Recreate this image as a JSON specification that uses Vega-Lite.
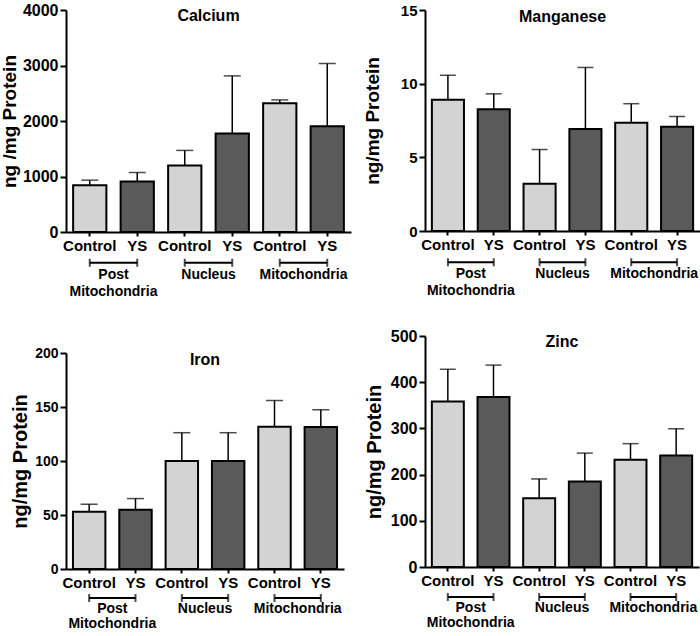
{
  "$schema": "https://vega.github.io/schema/vega-lite/v6.json",
  "padding": {"left": 0, "top": 2, "right": 0, "bottom": 0},
  "config": {
    "view": {"stroke": null},
    "font": "Liberation Sans",
    "axis": {"labelFont": "Liberation Sans", "titleFont": "Liberation Sans", "labelFontWeight": "bold", "titleFontWeight": "bold", "labelColor": "#000", "titleColor": "#000", "domainColor": "#000", "tickColor": "#000", "domainWidth": 2, "tickWidth": 2, "grid": false},
    "title": {"font": "Liberation Sans", "fontWeight": "bold", "fontSize": 16, "color": "#000", "frame": "group", "anchor": "middle", "offset": -22, "baseline": "alphabetic"},
    "text": {"font": "Liberation Sans"}
  },
  "datasets": {
    "bars": [
      {"element": "Calcium", "key": "PM|Control", "treatment": "Control", "mean": 843, "upper": 934},
      {"element": "Calcium", "key": "PM|YS", "treatment": "YS", "mean": 910, "upper": 1072},
      {"element": "Calcium", "key": "Nuc|Control", "treatment": "Control", "mean": 1199, "upper": 1470},
      {"element": "Calcium", "key": "Nuc|YS", "treatment": "YS", "mean": 1777, "upper": 2813},
      {"element": "Calcium", "key": "Mito|Control", "treatment": "Control", "mean": 2319, "upper": 2380},
      {"element": "Calcium", "key": "Mito|YS", "treatment": "YS", "mean": 1904, "upper": 3036},
      {"element": "Manganese", "key": "PM|Control", "treatment": "Control", "mean": 8.91, "upper": 10.57},
      {"element": "Manganese", "key": "PM|YS", "treatment": "YS", "mean": 8.26, "upper": 9.31},
      {"element": "Manganese", "key": "Nuc|Control", "treatment": "Control", "mean": 3.2, "upper": 5.53},
      {"element": "Manganese", "key": "Nuc|YS", "treatment": "YS", "mean": 6.92, "upper": 11.1},
      {"element": "Manganese", "key": "Mito|Control", "treatment": "Control", "mean": 7.34, "upper": 8.64},
      {"element": "Manganese", "key": "Mito|YS", "treatment": "YS", "mean": 7.07, "upper": 7.77},
      {"element": "Iron", "key": "PM|Control", "treatment": "Control", "mean": 52.9, "upper": 60},
      {"element": "Iron", "key": "PM|YS", "treatment": "YS", "mean": 54.8, "upper": 65.2},
      {"element": "Iron", "key": "Nuc|Control", "treatment": "Control", "mean": 100, "upper": 126.2},
      {"element": "Iron", "key": "Nuc|YS", "treatment": "YS", "mean": 100, "upper": 126.2},
      {"element": "Iron", "key": "Mito|Control", "treatment": "Control", "mean": 131.7, "upper": 156},
      {"element": "Iron", "key": "Mito|YS", "treatment": "YS", "mean": 131.4, "upper": 147.4},
      {"element": "Zinc", "key": "PM|Control", "treatment": "Control", "mean": 358, "upper": 428},
      {"element": "Zinc", "key": "PM|YS", "treatment": "YS", "mean": 368, "upper": 437},
      {"element": "Zinc", "key": "Nuc|Control", "treatment": "Control", "mean": 148.7, "upper": 190.6},
      {"element": "Zinc", "key": "Nuc|YS", "treatment": "YS", "mean": 184.8, "upper": 246.5},
      {"element": "Zinc", "key": "Mito|Control", "treatment": "Control", "mean": 232, "upper": 267},
      {"element": "Zinc", "key": "Mito|YS", "treatment": "YS", "mean": 241.3, "upper": 299}
    ],
    "brackets": [
      {"group": "PM", "label": "Post\nMitochondria", "ctrl": "PM|Control", "ys": "PM|YS"},
      {"group": "Nuc", "label": "Nucleus", "ctrl": "Nuc|Control", "ys": "Nuc|YS"},
      {"group": "Mito", "label": "Mitochondria", "ctrl": "Mito|Control", "ys": "Mito|YS"}
    ]
  },
  "hconcat": [
    {
      "spacing": 46,
      "align": "none",
      "vconcat": [
        {
          "spacing": 1,
          "vconcat": [
            {
              "width": 285, "height": 222,
              "title": "Calcium",
              "data": {"name": "bars"},
              "transform": [{"filter": "datum.element == 'Calcium'"}],
              "encoding": {
                "x": {"field": "key", "type": "nominal", "sort": null, "scale": {"type": "band", "domain": ["PM|Control", "PM|YS", "Nuc|Control", "Nuc|YS", "Mito|Control", "Mito|YS"], "paddingInner": 0.3, "paddingOuter": 0.15}, "axis": {"title": null, "labelExpr": "split(datum.value, '|')[1]", "labelAngle": 0, "labelFontSize": 15, "tickSize": 4, "labelPadding": 2, "labelOverlap": false}},
                "y": {"field": "mean", "type": "quantitative", "scale": {"domain": [0, 4000], "nice": false}, "axis": {"title": "ng /mg Protein", "format": "d", "values": [0, 1000, 2000, 3000, 4000], "labelFontSize": 16, "titleFontSize": 19, "titlePadding": 3, "tickSize": 6}}
              },
              "layer": [
                {"mark": {"type": "rule", "color": "#000", "strokeWidth": 1.5}, "encoding": {"y2": {"field": "upper"}}},
                {"mark": {"type": "tick", "orient": "horizontal", "color": "#000", "size": 17, "thickness": 1.5}, "encoding": {"y": {"field": "upper", "type": "quantitative"}}},
                {"mark": {"type": "bar", "stroke": "#000", "strokeWidth": 2}, "encoding": {"color": {"field": "treatment", "type": "nominal", "scale": {"domain": ["Control", "YS"], "range": ["#d3d3d3", "#5a5a5a"]}, "legend": null}}}
              ]
            },
            {
              "width": 285, "height": 20,
              "data": {"name": "brackets"},
              "encoding": {
                "y": {"datum": "bracket", "type": "ordinal", "scale": {"type": "point", "domain": ["bracket", "label"], "range": [6, 17]}, "axis": null}
              },
              "layer": [
                {"mark": {"type": "rule", "color": "#000", "strokeWidth": 2}, "encoding": {"x": {"field": "ctrl", "type": "nominal", "scale": {"type": "point", "domain": ["PM|Control", "PM|YS", "Nuc|Control", "Nuc|YS", "Mito|Control", "Mito|YS"], "padding": 0.5}, "axis": null}, "x2": {"field": "ys"}}},
                {"mark": {"type": "tick", "orient": "vertical", "color": "#000", "size": 8, "thickness": 2}, "encoding": {"x": {"field": "ctrl", "type": "nominal", "scale": {"type": "point", "domain": ["PM|Control", "PM|YS", "Nuc|Control", "Nuc|YS", "Mito|Control", "Mito|YS"], "padding": 0.5}, "axis": null}}},
                {"mark": {"type": "tick", "orient": "vertical", "color": "#000", "size": 8, "thickness": 2}, "encoding": {"x": {"field": "ys", "type": "nominal", "scale": {"type": "point", "domain": ["PM|Control", "PM|YS", "Nuc|Control", "Nuc|YS", "Mito|Control", "Mito|YS"], "padding": 0.5}, "axis": null}}},
                {"mark": {"type": "text", "baseline": "top", "align": "center", "lineBreak": "\n", "lineHeight": 17, "fontSize": 14, "fontWeight": "bold", "color": "#000"}, "encoding": {"x": {"field": "group", "type": "nominal", "sort": null, "scale": {"type": "point", "domain": ["PM", "Nuc", "Mito"], "padding": 0.5}, "axis": null}, "y": {"datum": "label", "type": "ordinal"}, "text": {"field": "label"}}}
              ],
              "resolve": {"scale": {"x": "independent"}}
            }
          ]
        },
        {
          "spacing": 1,
          "vconcat": [
            {
              "width": 278, "height": 216,
              "title": "Iron",
              "data": {"name": "bars"},
              "transform": [{"filter": "datum.element == 'Iron'"}],
              "encoding": {
                "x": {"field": "key", "type": "nominal", "sort": null, "scale": {"type": "band", "domain": ["PM|Control", "PM|YS", "Nuc|Control", "Nuc|YS", "Mito|Control", "Mito|YS"], "paddingInner": 0.3, "paddingOuter": 0.15}, "axis": {"title": null, "labelExpr": "split(datum.value, '|')[1]", "labelAngle": 0, "labelFontSize": 15, "tickSize": 4, "labelPadding": 2, "labelOverlap": false}},
                "y": {"field": "mean", "type": "quantitative", "scale": {"domain": [0, 200], "nice": false}, "axis": {"title": "ng/mg Protein", "format": "d", "values": [0, 50, 100, 150, 200], "labelFontSize": 14, "titleFontSize": 20, "titlePadding": 4, "tickSize": 6}}
              },
              "layer": [
                {"mark": {"type": "rule", "color": "#000", "strokeWidth": 1.5}, "encoding": {"y2": {"field": "upper"}}},
                {"mark": {"type": "tick", "orient": "horizontal", "color": "#000", "size": 17, "thickness": 1.5}, "encoding": {"y": {"field": "upper", "type": "quantitative"}}},
                {"mark": {"type": "bar", "stroke": "#000", "strokeWidth": 2}, "encoding": {"color": {"field": "treatment", "type": "nominal", "scale": {"domain": ["Control", "YS"], "range": ["#d3d3d3", "#5a5a5a"]}, "legend": null}}}
              ]
            },
            {
              "width": 278, "height": 20,
              "data": {"name": "brackets"},
              "encoding": {
                "y": {"datum": "bracket", "type": "ordinal", "scale": {"type": "point", "domain": ["bracket", "label"], "range": [5, 13]}, "axis": null}
              },
              "layer": [
                {"mark": {"type": "rule", "color": "#000", "strokeWidth": 2}, "encoding": {"x": {"field": "ctrl", "type": "nominal", "scale": {"type": "point", "domain": ["PM|Control", "PM|YS", "Nuc|Control", "Nuc|YS", "Mito|Control", "Mito|YS"], "padding": 0.5}, "axis": null}, "x2": {"field": "ys"}}},
                {"mark": {"type": "tick", "orient": "vertical", "color": "#000", "size": 8, "thickness": 2}, "encoding": {"x": {"field": "ctrl", "type": "nominal", "scale": {"type": "point", "domain": ["PM|Control", "PM|YS", "Nuc|Control", "Nuc|YS", "Mito|Control", "Mito|YS"], "padding": 0.5}, "axis": null}}},
                {"mark": {"type": "tick", "orient": "vertical", "color": "#000", "size": 8, "thickness": 2}, "encoding": {"x": {"field": "ys", "type": "nominal", "scale": {"type": "point", "domain": ["PM|Control", "PM|YS", "Nuc|Control", "Nuc|YS", "Mito|Control", "Mito|YS"], "padding": 0.5}, "axis": null}}},
                {"mark": {"type": "text", "baseline": "top", "align": "center", "lineBreak": "\n", "lineHeight": 15, "fontSize": 14, "fontWeight": "bold", "color": "#000"}, "encoding": {"x": {"field": "group", "type": "nominal", "sort": null, "scale": {"type": "point", "domain": ["PM", "Nuc", "Mito"], "padding": 0.5}, "axis": null}, "y": {"datum": "label", "type": "ordinal"}, "text": {"field": "label"}}}
              ],
              "resolve": {"scale": {"x": "independent"}}
            }
          ]
        }
      ]
    },
    {
      "spacing": 30,
      "vconcat": [
        {
          "spacing": 1,
          "vconcat": [
            {
              "width": 275, "height": 221,
              "title": "Manganese",
              "data": {"name": "bars"},
              "transform": [{"filter": "datum.element == 'Manganese'"}],
              "encoding": {
                "x": {"field": "key", "type": "nominal", "sort": null, "scale": {"type": "band", "domain": ["PM|Control", "PM|YS", "Nuc|Control", "Nuc|YS", "Mito|Control", "Mito|YS"], "paddingInner": 0.3, "paddingOuter": 0.15}, "axis": {"title": null, "labelExpr": "split(datum.value, '|')[1]", "labelAngle": 0, "labelFontSize": 15, "tickSize": 4, "labelPadding": 2, "labelOverlap": false}},
                "y": {"field": "mean", "type": "quantitative", "scale": {"domain": [0, 15], "nice": false}, "axis": {"title": "ng/mg Protein", "format": "d", "values": [0, 5, 10, 15], "labelFontSize": 15, "titleFontSize": 19, "titlePadding": 18, "tickSize": 6}}
              },
              "layer": [
                {"mark": {"type": "rule", "color": "#000", "strokeWidth": 1.5}, "encoding": {"y2": {"field": "upper"}}},
                {"mark": {"type": "tick", "orient": "horizontal", "color": "#000", "size": 16, "thickness": 1.5}, "encoding": {"y": {"field": "upper", "type": "quantitative"}}},
                {"mark": {"type": "bar", "stroke": "#000", "strokeWidth": 2}, "encoding": {"color": {"field": "treatment", "type": "nominal", "scale": {"domain": ["Control", "YS"], "range": ["#d3d3d3", "#5a5a5a"]}, "legend": null}}}
              ]
            },
            {
              "width": 275, "height": 20,
              "data": {"name": "brackets"},
              "encoding": {
                "y": {"datum": "bracket", "type": "ordinal", "scale": {"type": "point", "domain": ["bracket", "label"], "range": [7, 16]}, "axis": null}
              },
              "layer": [
                {"mark": {"type": "rule", "color": "#000", "strokeWidth": 2}, "encoding": {"x": {"field": "ctrl", "type": "nominal", "scale": {"type": "point", "domain": ["PM|Control", "PM|YS", "Nuc|Control", "Nuc|YS", "Mito|Control", "Mito|YS"], "padding": 0.5}, "axis": null}, "x2": {"field": "ys"}}},
                {"mark": {"type": "tick", "orient": "vertical", "color": "#000", "size": 8, "thickness": 2}, "encoding": {"x": {"field": "ctrl", "type": "nominal", "scale": {"type": "point", "domain": ["PM|Control", "PM|YS", "Nuc|Control", "Nuc|YS", "Mito|Control", "Mito|YS"], "padding": 0.5}, "axis": null}}},
                {"mark": {"type": "tick", "orient": "vertical", "color": "#000", "size": 8, "thickness": 2}, "encoding": {"x": {"field": "ys", "type": "nominal", "scale": {"type": "point", "domain": ["PM|Control", "PM|YS", "Nuc|Control", "Nuc|YS", "Mito|Control", "Mito|YS"], "padding": 0.5}, "axis": null}}},
                {"mark": {"type": "text", "baseline": "top", "align": "center", "lineBreak": "\n", "lineHeight": 17, "fontSize": 14, "fontWeight": "bold", "color": "#000"}, "encoding": {"x": {"field": "group", "type": "nominal", "sort": null, "scale": {"type": "point", "domain": ["PM", "Nuc", "Mito"], "padding": 0.5}, "axis": null}, "y": {"datum": "label", "type": "ordinal"}, "text": {"field": "label"}}}
              ],
              "resolve": {"scale": {"x": "independent"}}
            }
          ]
        },
        {
          "spacing": 1,
          "vconcat": [
            {
              "width": 274, "height": 231,
              "title": "Zinc",
              "data": {"name": "bars"},
              "transform": [{"filter": "datum.element == 'Zinc'"}],
              "encoding": {
                "x": {"field": "key", "type": "nominal", "sort": null, "scale": {"type": "band", "domain": ["PM|Control", "PM|YS", "Nuc|Control", "Nuc|YS", "Mito|Control", "Mito|YS"], "paddingInner": 0.3, "paddingOuter": 0.15}, "axis": {"title": null, "labelExpr": "split(datum.value, '|')[1]", "labelAngle": 0, "labelFontSize": 15, "tickSize": 4, "labelPadding": 2, "labelOverlap": false}},
                "y": {"field": "mean", "type": "quantitative", "scale": {"domain": [0, 500], "nice": false}, "axis": {"title": "ng/mg Protein", "format": "d", "values": [0, 100, 200, 300, 400, 500], "labelFontSize": 16, "titleFontSize": 20, "titlePadding": 6, "tickSize": 6}}
              },
              "layer": [
                {"mark": {"type": "rule", "color": "#000", "strokeWidth": 1.5}, "encoding": {"y2": {"field": "upper"}}},
                {"mark": {"type": "tick", "orient": "horizontal", "color": "#000", "size": 16, "thickness": 1.5}, "encoding": {"y": {"field": "upper", "type": "quantitative"}}},
                {"mark": {"type": "bar", "stroke": "#000", "strokeWidth": 2}, "encoding": {"color": {"field": "treatment", "type": "nominal", "scale": {"domain": ["Control", "YS"], "range": ["#d3d3d3", "#5a5a5a"]}, "legend": null}}}
              ]
            },
            {
              "width": 274, "height": 20,
              "data": {"name": "brackets"},
              "encoding": {
                "y": {"datum": "bracket", "type": "ordinal", "scale": {"type": "point", "domain": ["bracket", "label"], "range": [6, 14]}, "axis": null}
              },
              "layer": [
                {"mark": {"type": "rule", "color": "#000", "strokeWidth": 2}, "encoding": {"x": {"field": "ctrl", "type": "nominal", "scale": {"type": "point", "domain": ["PM|Control", "PM|YS", "Nuc|Control", "Nuc|YS", "Mito|Control", "Mito|YS"], "padding": 0.5}, "axis": null}, "x2": {"field": "ys"}}},
                {"mark": {"type": "tick", "orient": "vertical", "color": "#000", "size": 8, "thickness": 2}, "encoding": {"x": {"field": "ctrl", "type": "nominal", "scale": {"type": "point", "domain": ["PM|Control", "PM|YS", "Nuc|Control", "Nuc|YS", "Mito|Control", "Mito|YS"], "padding": 0.5}, "axis": null}}},
                {"mark": {"type": "tick", "orient": "vertical", "color": "#000", "size": 8, "thickness": 2}, "encoding": {"x": {"field": "ys", "type": "nominal", "scale": {"type": "point", "domain": ["PM|Control", "PM|YS", "Nuc|Control", "Nuc|YS", "Mito|Control", "Mito|YS"], "padding": 0.5}, "axis": null}}},
                {"mark": {"type": "text", "baseline": "top", "align": "center", "lineBreak": "\n", "lineHeight": 15, "fontSize": 14, "fontWeight": "bold", "color": "#000"}, "encoding": {"x": {"field": "group", "type": "nominal", "sort": null, "scale": {"type": "point", "domain": ["PM", "Nuc", "Mito"], "padding": 0.5}, "axis": null}, "y": {"datum": "label", "type": "ordinal"}, "text": {"field": "label"}}}
              ],
              "resolve": {"scale": {"x": "independent"}}
            }
          ]
        }
      ]
    }
  ],
  "spacing": 12
}
